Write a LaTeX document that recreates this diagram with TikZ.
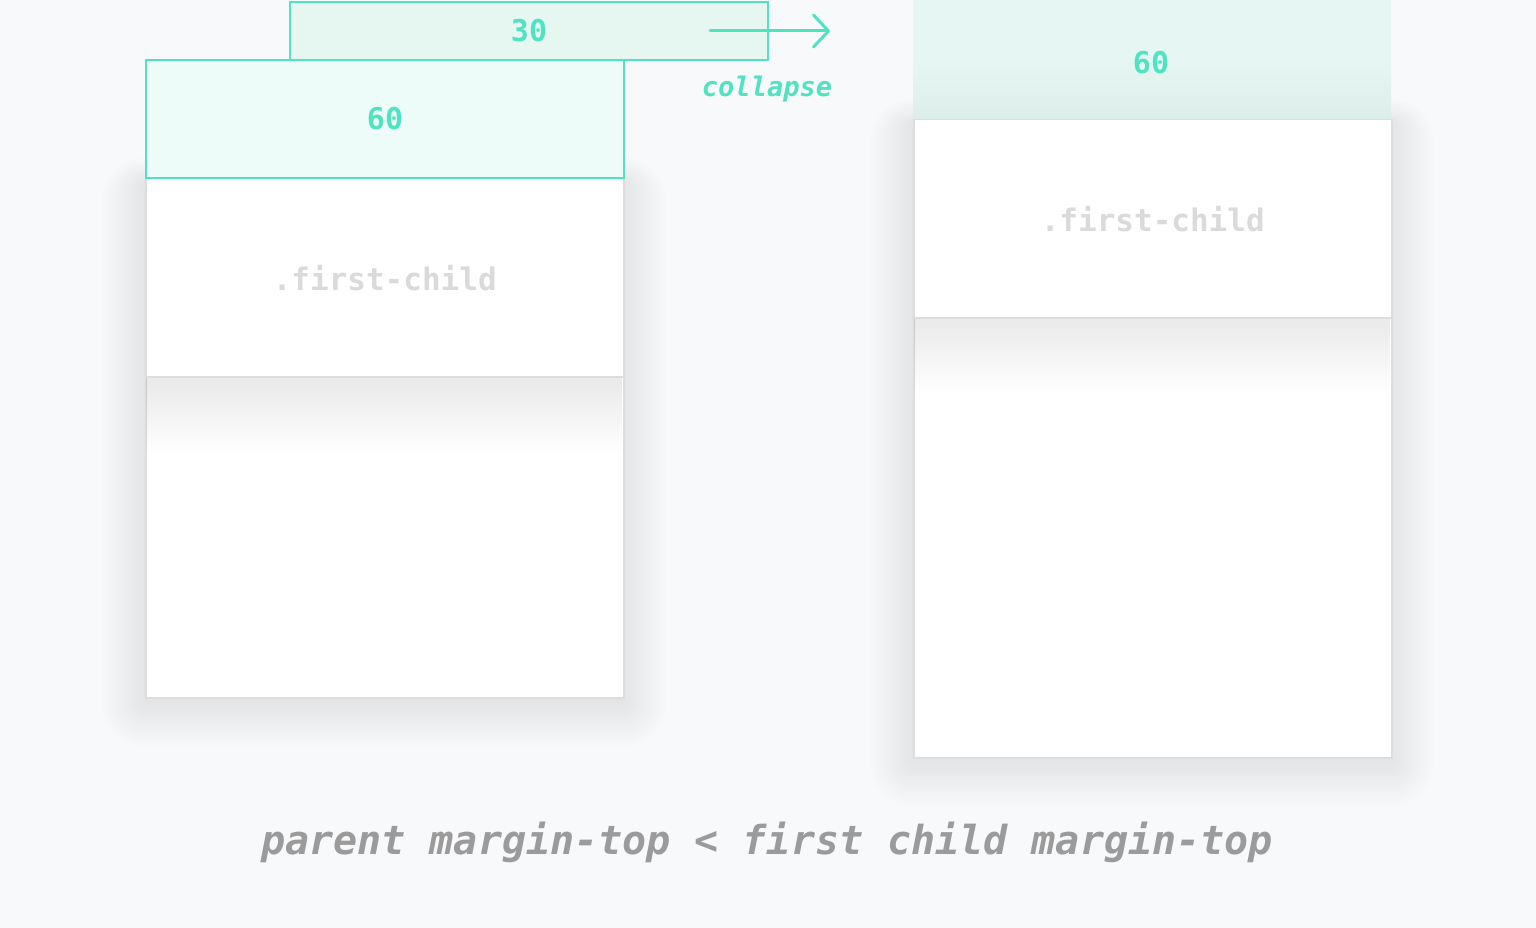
\documentclass[tikz,border=0pt]{standalone}
\usepackage{fontspec}
\newfontfamily\mono{DejaVu Sans Mono}
\usetikzlibrary{arrows.meta}
\definecolor{bg}{HTML}{F8F9FB}
\definecolor{teal}{HTML}{50E3C2}
\definecolor{fillA}{HTML}{EDFCF8}
\definecolor{fillB}{HTML}{E6F7F2}
\definecolor{fillC}{HTML}{E6F7F3}
\definecolor{fillD}{HTML}{DDEDE9}
\definecolor{boxline}{HTML}{DDDDDD}
\definecolor{childtxt}{HTML}{DADADA}
\definecolor{captxt}{HTML}{9B9B9B}
\newcommand{\softshadow}[7]{% x1 y1 x2 y2 yshift step opacity
  \foreach \i in {1,...,20} {
    \fill[black, opacity=#7, rounded corners={\i*#6 pt}]
      ({#1-\i*#6},{#2-\i*#6*0.6+#5}) rectangle ({#3+\i*#6},{#4+\i*#6+#5});
  }}
\begin{document}
\begin{tikzpicture}[x=1pt,y=-1pt,
  parentbox/.style={draw=boxline, line width=1.5pt, fill=white, anchor=north west,
    inner sep=0pt, minimum width=478pt},
  childbox/.style={draw=boxline, line width=1.5pt, fill=white, anchor=north west,
    inner sep=0pt, minimum width=478pt, minimum height=198pt,
    font=\mono\bfseries\fontsize{31}{31}\selectfont, text=childtxt},
  marginbox/.style={draw=teal, line width=2pt, anchor=north west, inner sep=0pt,
    font=\mono\bfseries\fontsize{30}{30}\selectfont, text=teal},
  numtxt/.style={font=\mono\bfseries\fontsize{30}{30}\selectfont, text=teal},
  lbltxt/.style={font=\mono\bfseries\itshape\fontsize{27}{27}\selectfont, text=teal},
  captxtstyle/.style={font=\mono\bfseries\itshape\fontsize{40}{40}\selectfont, text=captxt},
]
\useasboundingbox (0,0) rectangle (1536,928);
\fill[bg] (0,0) rectangle (1536,928);

% ---------- left ----------
\softshadow{145}{178}{623}{697}{6}{2.2}{0.0026}
\node[parentbox, minimum height=519pt] (lparent) at (145,178) {};
\begin{scope}
  \clip (146,378) rectangle (622,696);
  \softshadow{145}{178}{623}{377}{6}{3.5}{0.0028}
\end{scope}
\node[childbox] (lchild) at (145,178) {.first-child};
\node[marginbox, fill=fillA, minimum width=478pt, minimum height=118pt] (l60) at (145,59) {60};
\node[marginbox, fill=fillB, minimum width=478pt, minimum height=58pt] (l30) at (289,1) {30};

% arrow
\coordinate (as) at (710,31);
\coordinate (ae) at (830,31);
\draw[teal, line width=3pt, line cap=round, -{Straight Barb[length=15pt,width=32pt,line width=3pt,round]}] (as) -- (ae);
\node[lbltxt] (collapse) at (767,89) {collapse};

% ---------- right ----------
\softshadow{913}{119}{1391}{757}{6}{2.2}{0.0026}
\shade[top color=fillC, bottom color=fillD, middle color=fillC] (913,0) rectangle (1391,119);
\node[numtxt] (r60) at (1151,63) {60};
\node[parentbox, minimum height=638pt] (rparent) at (913,119) {};
\begin{scope}
  \clip (914,318) rectangle (1390,756);
  \softshadow{913}{119}{1391}{317}{6}{3.5}{0.0028}
\end{scope}
\node[childbox] (rchild) at (913,119) {.first-child};

% caption
\node[captxtstyle] (caption) at (767,842) {parent margin-top < first child margin-top};
\end{tikzpicture}
\end{document}
